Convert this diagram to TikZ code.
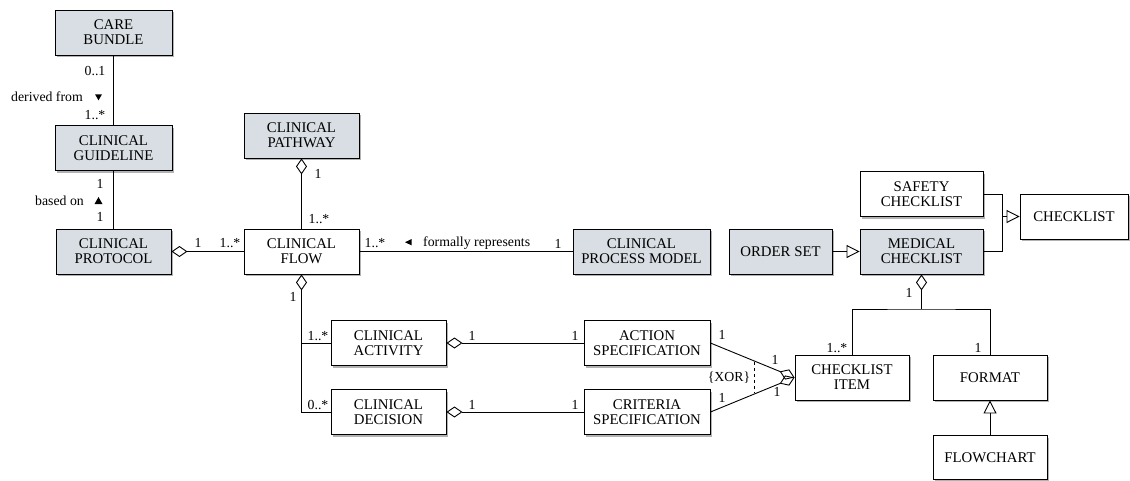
\documentclass[tikz,border=0pt]{standalone}
\usepackage{fontspec}
\setmainfont{Liberation Serif}
\newfontfamily\tms{Liberation Serif}
\usetikzlibrary{arrows.meta,shadows}
\definecolor{boxgray}{RGB}{216,222,227}
\begin{document}
\begin{tikzpicture}[x=1pt,y=-1pt,
  box/.style={draw, line width=0.9pt, fill=white, align=center, inner sep=0pt,
    minimum height=45pt, font=\tms\fontsize{14.8}{15}\selectfont,
    drop shadow={shadow xshift=2pt, shadow yshift=-2pt, opacity=0.3, fill=black}},
  gbox/.style={box, fill=boxgray},
  lab/.style={font=\tms\fontsize{13.8}{14}\selectfont, inner sep=0pt},
  conn/.style={line width=0.9pt},
  agg/.style={conn, {Diamond[open,length=16pt,width=11pt]}-},
  aggend/.style={conn, -{Diamond[open,length=16pt,width=11pt]}},
  gen/.style={conn, -{Triangle[open,length=13pt,width=13pt]}},
  tri/.style={fill=black, draw=none}
]
\useasboundingbox (0,0) rectangle (1130,480);

% nodes
\node[gbox, minimum width=117pt] (care) at (113.5,32.5) {CARE\\BUNDLE};
\node[gbox, minimum width=117pt] (guide) at (113.5,148) {CLINICAL\\GUIDELINE};
\node[gbox, minimum width=115pt] (prot) at (113.5,251.5) {CLINICAL\\PROTOCOL};
\node[gbox, minimum width=115pt] (path) at (301.5,135.5) {CLINICAL\\PATHWAY};
\node[box, minimum width=115pt] (flow) at (301.5,251.5) {CLINICAL\\FLOW};
\node[gbox, minimum width=137pt] (cpm) at (641.5,251.5) {CLINICAL\\PROCESS MODEL};
\node[gbox, minimum width=103pt] (order) at (780.5,251.5) {ORDER SET};
\node[gbox, minimum width=123pt] (med) at (921.5,251.5) {MEDICAL\\CHECKLIST};
\node[box, minimum width=123pt] (safety) at (921.5,194) {SAFETY\\CHECKLIST};
\node[box, minimum width=108pt] (checklist) at (1074,216.5) {CHECKLIST};
\node[box, minimum width=115pt] (act) at (388.5,343) {CLINICAL\\ACTIVITY};
\node[box, minimum width=115pt] (dec) at (388.5,412) {CLINICAL\\DECISION};
\node[box, minimum width=126pt] (aspec) at (647,343) {ACTION\\SPECIFICATION};
\node[box, minimum width=126pt] (cspec) at (647,412) {CRITERIA\\SPECIFICATION};
\node[box, minimum width=114pt] (item) at (852,377.5) {CHECKLIST\\ITEM};
\node[box, minimum width=114pt] (format) at (990,377.5) {FORMAT};
\node[box, minimum width=114pt, minimum height=44pt] (flowchart) at (990,457.5) {FLOWCHART};

% connectors
\draw[conn] (care) -- (guide);
\draw[conn] (guide) -- (prot);
\draw[agg] (prot.east) -- (flow.west);
\draw[agg] (path.south) -- (flow.north);
\draw[conn] (flow.east) -- (cpm.west);
\draw[agg] (flow.south) -- (flow.south |- dec.west) -- (dec.west);
\draw[conn] (flow.south |- act.west) -- (act.west);
\draw[agg] (act.east) -- (aspec.west);
\draw[agg] (dec.east) -- (cspec.west);
\draw[aggend] (aspec.east) -- (item.west);
\draw[aggend] (cspec.east) -- (item.west);
\draw[gen] (order) -- (med);
\coordinate (jx) at (1002,216.5);
\draw[conn] (safety.east) -| (jx) |- (med.east);
\draw[gen] (jx) -- (checklist.west);
\coordinate (bus) at (921.5,309);
\draw[agg] (med.south) -- (bus);
\draw[conn] (item.north) |- (bus) -| (format.north);
\draw[gen] (flowchart) -- (format);
\draw[conn, dashed] (754,362) -- (754,393);

% labels
\node[lab] (l1) at (95,71.5) {0..1};
\node[lab, anchor=east] (l2) at (83,97) {derived from};
\fill[tri] (95,94.3) -- (102,94.3) -- (98.5,100.3) -- cycle;
\node[lab] (l3) at (95,115) {1..*};
\node[lab] (l4) at (100,183.5) {1};
\node[lab, anchor=east] (l5) at (84,201) {based on};
\fill[tri] (94.5,204) -- (102.5,204) -- (98.5,197) -- cycle;
\node[lab] (l6) at (100,216.5) {1};
\node[lab] (l7) at (318,174) {1};
\node[lab] (l8) at (319,219) {1..*};
\node[lab] (l9) at (198,243) {1};
\node[lab] (l10) at (230,243) {1..*};
\node[lab] (l11) at (375,243) {1..*};
\fill[tri] (405,242.2) -- (411.7,239) -- (411.7,245.4) -- cycle;
\node[lab, anchor=west] (l12) at (423,243.5) {formally represents};
\node[lab] (l13) at (558,243.5) {1};
\node[lab] (l14) at (293,297) {1};
\node[lab] (l15) at (318,336) {1..*};
\node[lab] (l16) at (318,405) {0..*};
\node[lab] (l17) at (472,336) {1};
\node[lab] (l18) at (575,336) {1};
\node[lab] (l19) at (472,405) {1};
\node[lab] (l20) at (575,405) {1};
\node[lab] (l21) at (722,335) {1};
\node[lab] (l22) at (722,398) {1};
\node[lab] (l23) at (775,360) {1};
\node[lab] (l24) at (777,392) {1};
\node[lab] (xor) at (729,378) {\{XOR\}};
\node[lab] (l25) at (909,293) {1};
\node[lab] (l26) at (837,348) {1..*};
\node[lab] (l27) at (978,348) {1};
\end{tikzpicture}
\end{document}
